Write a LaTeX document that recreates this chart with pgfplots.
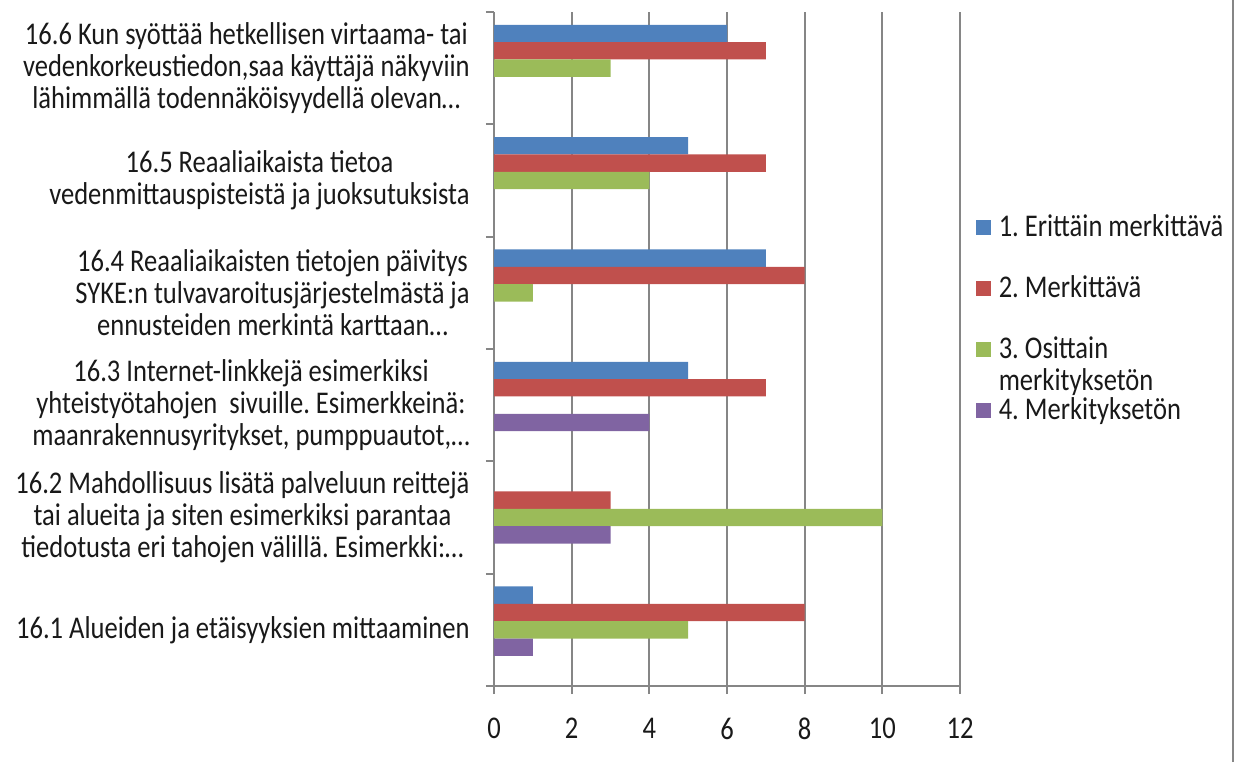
\documentclass[border=0pt]{standalone}
\usepackage{pgfplots}
\pgfplotsset{compat=1.18}
\usepackage{fontspec}
\setmainfont{Carlito}[FakeStretch=0.84]
\definecolor{s1}{HTML}{4F81BD}
\definecolor{s2}{HTML}{C0504D}
\definecolor{s3}{HTML}{9BBB59}
\definecolor{s4}{HTML}{8064A2}
\definecolor{gridgray}{HTML}{868686}
\newcommand{\lblfont}{\fontsize{15.8}{16}\selectfont}
% square legend key with a little room on its right
\pgfplotsset{sqlegend/.style={legend image code/.code={\fill[##1] (0pt,-3.75pt) rectangle (7.5pt,3.75pt); \path (11.5pt,0pt);}}}
\frenchspacing

\begin{document}
\begin{tikzpicture}
\path[use as bounding box] (0,0) rectangle (620.5pt,381pt);
\draw[gridgray, line width=1pt] (616.5pt,0) -- (616.5pt,381pt);
\begin{axis}[
  at={(247pt,38pt)}, anchor=south west,
  scale only axis, width=233pt, height=337pt,
  xmin=0, xmax=12, ymin=-0.5, ymax=5.5,
  xbar, bar width=0.1545,
  axis x line*=bottom, axis y line*=left,
  axis line style={gridgray, line width=1pt, -},
  xtick={0,2,...,12},
  xmajorgrids, major grid style={gridgray, line width=1pt},
  tick style={gridgray, line width=1pt},
  tick align=outside, major tick length=4pt,
  /pgf/number format/assume math mode=true,
  ytick={-0.5,0.5,...,5.5}, yticklabels={},
  extra y ticks={0,1,2,3,4,5},
  extra y tick style={major tick length=0pt},
  extra y tick labels={
    {16.1 Alueiden ja etäisyyksien mittaaminen},
    {16.2 Mahdollisuus lisätä palveluun reittejä\\tai alueita ja siten esimerkiksi parantaa\\tiedotusta eri tahojen välillä. Esimerkki:…},
    {16.3 Internet-linkkejä esimerkiksi\\yhteistyötahojen\ \ sivuille. Esimerkkeinä:\\maanrakennusyritykset, pumppuautot,…},
    {16.4 Reaaliaikaisten tietojen päivitys\\SYKE:n tulvavaroitusjärjestelmästä ja\\ennusteiden merkintä karttaan…},
    {16.5 Reaaliaikaista tietoa\\vedenmittauspisteistä ja juoksutuksista},
    {16.6 Kun syöttää hetkellisen virtaama- tai\\vedenkorkeustiedon,saa käyttäjä näkyviin\\lähimmällä todennäköisyydellä olevan…}},
  yticklabel style={font=\lblfont, align=center, inner sep=0pt, xshift=-12pt, text=black!90},
  xticklabel style={font=\lblfont, inner sep=0pt, yshift=-12pt, text=black!90},
  legend style={at={(rel axis cs:1.033,0.70)}, anchor=north west, draw=none, fill=none,
    font=\lblfont, row sep=18pt, inner sep=0pt,
    nodes={inner sep=0pt, text=black!90}},
  legend cell align=left,
]
\addplot[draw=none, fill=s1, bar shift=0.309, sqlegend] coordinates {(6,5) (5,4) (7,3) (5,2) (1,0)};
\addlegendentry{1. Erittäin merkittävä}
\addplot[draw=none, fill=s2, bar shift=0.1545, sqlegend] coordinates {(7,5) (7,4) (8,3) (7,2) (3,1) (8,0)};
\addlegendentry{2. Merkittävä}
\addplot[draw=none, fill=s3, bar shift=0, sqlegend] coordinates {(3,5) (4,4) (1,3) (10,1) (5,0)};
\addlegendentry{\raisebox{0pt}[\height][0pt]{\lblfont\begin{tabular}[t]{@{}l@{}}3. Osittain\\merkityksetön\end{tabular}}}
\addplot[draw=none, fill=s4, bar shift=-0.1545, sqlegend] coordinates {(4,2) (3,1) (1,0)};
\addlegendentry{4. Merkityksetön}
\end{axis}
\end{tikzpicture}
\end{document}
